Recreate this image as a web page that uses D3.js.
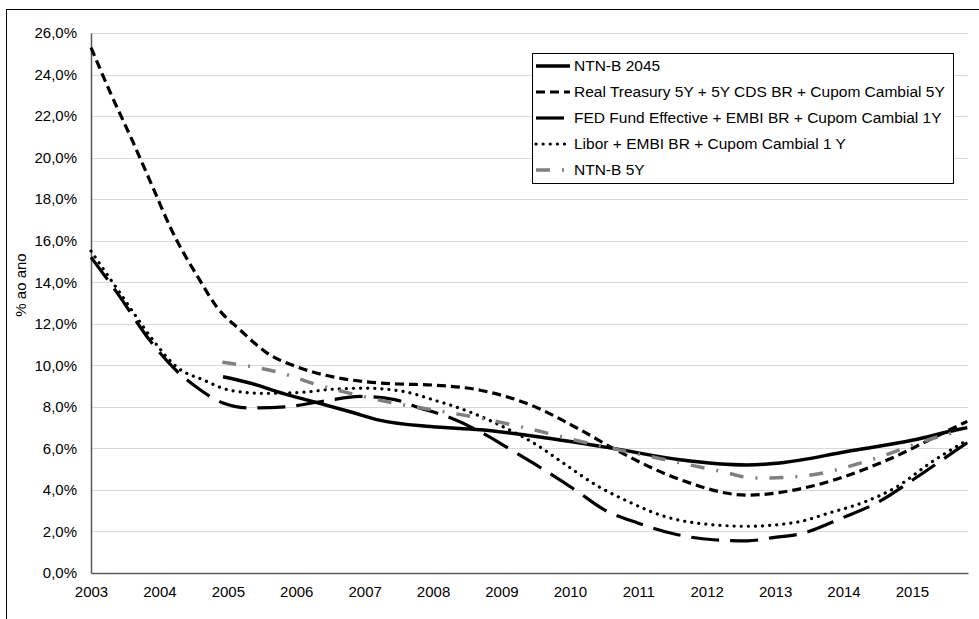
<!DOCTYPE html>
<html>
<head>
<meta charset="utf-8">
<script src="https://cdn.jsdelivr.net/npm/d3@7"></script>
<style>
  body { margin: 0; background: #fff; }
  text { font-family: "Liberation Sans", Arial, sans-serif; fill: #000; }
</style>
</head>
<body>
<div id="chart"></div>
<script>
var WD = 979, HT = 619
var margin = { left: 91, right: 11, top: 33, bottom: 46 }

// data (year, % a.a.)
var yearTicks = [2003, 2004, 2005, 2006, 2007, 2008, 2009, 2010, 2011, 2012, 2013, 2014, 2015]
var yTicks = [0, 2, 4, 6, 8, 10, 12, 14, 16, 18, 20, 22, 24, 26]
var lastYear = 2015.82

var ntnb2045Years = [2004.93, 2005.32, 2005.8, 2006.25, 2006.8, 2007.23, 2007.96, 2008.69, 2009.66, 2010.63, 2011.61, 2012.59, 2013.07, 2014.05, 2015.02, 2015.66, 2015.81]
var ntnb2045Vals  = [9.45, 9.15, 8.65, 8.25, 7.75, 7.35, 7.05, 6.9, 6.5, 6.0, 5.45, 5.2, 5.3, 5.85, 6.4, 6.9, 7.0]

var treasuryYears = [2003.0, 2003.3, 2003.6, 2003.9, 2004.18, 2004.59, 2004.84, 2005.18, 2005.57, 2006.06, 2006.54, 2007.04, 2007.5, 2008.0, 2008.69, 2009.42, 2010.15, 2010.69, 2011.61, 2012.59, 2013.56, 2014.54, 2015.68, 2015.81]
var treasuryVals  = [25.3, 23.0, 20.85, 18.6, 16.5, 14.1, 12.8, 11.7, 10.6, 9.87, 9.44, 9.2, 9.1, 9.05, 8.8, 8.1, 6.9, 5.9, 4.5, 3.75, 4.2, 5.3, 7.1, 7.3]

var fedYears = [2003.0, 2003.38, 2003.86, 2004.23, 2004.52, 2004.92, 2005.32, 2005.84, 2006.44, 2006.93, 2007.44, 2007.8, 2008.15, 2008.69, 2009.08, 2009.46, 2010.1, 2010.5, 2011.0, 2011.5, 2012.1, 2012.6, 2012.97, 2013.39, 2013.98, 2014.5, 2015.02, 2015.51, 2015.82]
var fedVals  = [15.2, 13.5, 11.2, 9.8, 9.0, 8.2, 7.95, 8.0, 8.3, 8.5, 8.35, 7.95, 7.6, 6.8, 6.05, 5.3, 3.95, 3.05, 2.4, 1.9, 1.6, 1.55, 1.7, 1.9, 2.65, 3.4, 4.5, 5.6, 6.3]

var liborYears = [2003.0, 2003.23, 2003.42, 2003.67, 2003.91, 2004.26, 2004.64, 2005.03, 2005.51, 2006.08, 2006.54, 2006.98, 2007.55, 2008.04, 2008.54, 2009.05, 2009.5, 2009.9, 2010.4, 2010.88, 2011.36, 2011.86, 2012.59, 2013.32, 2013.8, 2014.29, 2014.78, 2015.27, 2015.81]
var liborVals  = [15.5, 14.4, 13.5, 12.3, 11.2, 9.9, 9.3, 8.8, 8.65, 8.7, 8.85, 8.9, 8.75, 8.3, 7.75, 7.0, 6.2, 5.3, 4.2, 3.4, 2.75, 2.4, 2.25, 2.45, 2.9, 3.4, 4.15, 5.3, 6.4]

var ntnb5Years = [2004.92, 2005.03, 2005.81, 2006.27, 2006.85, 2007.43, 2008.0, 2008.62, 2009.2, 2010.4, 2010.93, 2012.2, 2012.7, 2013.35, 2014.45, 2015.13, 2015.7]
var ntnb5Vals  = [10.15, 10.1, 9.6, 9.1, 8.6, 8.18, 7.85, 7.5, 7.1, 6.15, 5.78, 4.9, 4.57, 4.65, 5.5, 6.3, 6.85]

var seriesNames = ["NTN-B 2045",
                   "Real Treasury 5Y + 5Y CDS BR + Cupom Cambial 5Y",
                   "FED Fund Effective + EMBI BR + Cupom Cambial 1Y",
                   "Libor + EMBI BR + Cupom Cambial 1 Y",
                   "NTN-B 5Y"]

function zipSeries(years, vals) {
  return years.map(function(y, i) { return { year: y, value: vals[i] } })
}

var series = [
  { name: seriesNames[0], pts: zipSeries(ntnb2045Years, ntnb2045Vals), color: "#000", width: 3.5, dash: null, cap: "butt" },
  { name: seriesNames[1], pts: zipSeries(treasuryYears, treasuryVals), color: "#000", width: 3.2, dash: "9,5", cap: "butt" },
  { name: seriesNames[2], pts: zipSeries(fedYears, fedVals), color: "#000", width: 3.2, dash: "28,11", cap: "butt" },
  { name: seriesNames[3], pts: zipSeries(liborYears, liborVals), color: "#000", width: 3.2, dash: "0.1,7", cap: "round" },
  { name: seriesNames[4], pts: zipSeries(ntnb5Years, ntnb5Vals), color: "#808080", width: 3.5, dash: "14,12,2,12", cap: "butt" }
]

var svg = d3.select("#chart")
  .append("svg")
    .attr("width", WD)
    .attr("height", HT)

// outer frame (runs off the right and bottom edges)
svg.append("rect")
  .attr("x", 6.5).attr("y", 9.5)
  .attr("width", 1000).attr("height", 700)
  .attr("fill", "none")
  .attr("stroke", "#000")

var x = d3.scaleLinear()
  .domain([2003, lastYear])
  .range([margin.left, WD - margin.right])

var y = d3.scaleLinear()
  .domain([0, 26])
  .range([HT - margin.bottom, margin.top])

// gridlines
svg.append("g")
  .selectAll("line")
  .data(yTicks.filter(function(d) { return d > 0 }))
  .enter().append("line")
    .attr("x1", x(2003)).attr("x2", x(lastYear))
    .attr("y1", function(d) { return Math.round(y(d)) + 0.5 })
    .attr("y2", function(d) { return Math.round(y(d)) + 0.5 })
    .attr("stroke", "#d9d9d9")
    .attr("stroke-width", 1)

var fmt = function(d) { return d3.format(".1f")(d).replace(".", ",") + "%" }

var yAxis = svg.append("g")
  .attr("transform", "translate(" + margin.left + ",0)")
  .call(d3.axisLeft(y).tickValues(yTicks).tickFormat(fmt).tickSize(0).tickPadding(14))
yAxis.select(".domain").attr("stroke", "#595959").attr("stroke-width", 1.5)
yAxis.selectAll("text").style("font-size", "15px").attr("font-family", null)

var xAxis = svg.append("g")
  .attr("transform", "translate(0," + (HT - margin.bottom) + ")")
  .call(d3.axisBottom(x).tickValues(yearTicks).tickFormat(d3.format("d")).tickSize(0).tickPadding(13))
xAxis.select(".domain").attr("stroke", "#595959").attr("stroke-width", 1.5)
xAxis.selectAll("text").style("font-size", "15px").attr("font-family", null)

svg.append("text")
  .attr("transform", "translate(21,285) rotate(-90)")
  .attr("text-anchor", "middle")
  .attr("dy", "0.35em")
  .style("font-size", "15px")
  .text("% ao ano")

var line = d3.line()
  .x(function(d) { return x(d.year) })
  .y(function(d) { return y(d.value) })
  .curve(d3.curveMonotoneX)

svg.append("g")
  .selectAll("path")
  .data(series)
  .enter().append("path")
    .attr("d", function(d) { return line(d.pts) })
    .attr("fill", "none")
    .attr("stroke", function(d) { return d.color })
    .attr("stroke-width", function(d) { return d.width })
    .attr("stroke-dasharray", function(d) { return d.dash })
    .attr("stroke-linecap", function(d) { return d.cap })

// legend
var legend = svg.append("g")
legend.append("rect")
  .attr("x", 532.5).attr("y", 53.5)
  .attr("width", 421).attr("height", 130)
  .attr("fill", "#fff")
  .attr("stroke", "#000")

var items = legend.selectAll("g.item")
  .data(series)
  .enter().append("g")
    .attr("class", "item")
    .attr("transform", function(d, i) { return "translate(0," + (66 + i * 26) + ")" })

items.append("line")
  .attr("x1", 536).attr("x2", 570)
  .attr("stroke", function(d) { return d.color })
  .attr("stroke-width", function(d) { return d.width })
  .attr("stroke-dasharray", function(d) { return d.dash })
  .attr("stroke-linecap", function(d) { return d.cap })

items.append("text")
  .attr("x", 574)
  .attr("dy", "0.35em")
  .style("font-size", "15.5px")
  .text(function(d) { return d.name })
</script>
</body>
</html>
